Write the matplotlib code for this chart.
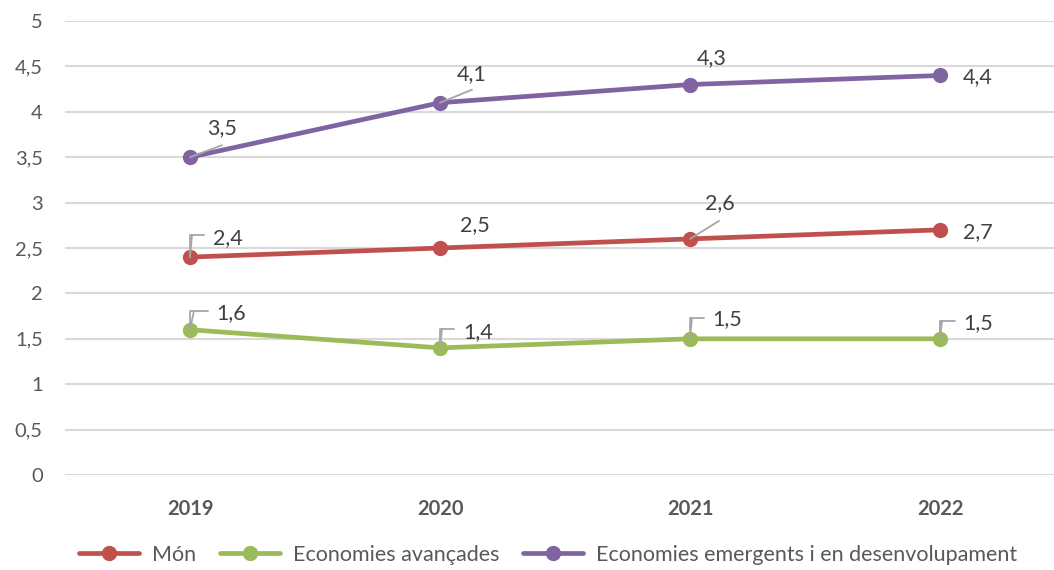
import numpy as np
import matplotlib
matplotlib.use("Agg")
import matplotlib.pyplot as plt

plt.rcParams['font.family'] = ['Lato', 'DejaVu Sans']

years = ["2019", "2020", "2021", "2022"]
mon = [2.4, 2.5, 2.6, 2.7]
avancades = [1.6, 1.4, 1.5, 1.5]
emergents = [3.5, 4.1, 4.3, 4.4]
series_names = ["Món", "Economies avançades", "Economies emergents i en desenvolupament"]
yticks = np.arange(0, 5.01, 0.5)

colors = ["#C0504D", "#9BBB59", "#8064A2"]
# label placement: (text offset, leader kind, leader points) in pixels
label_pos = [
    [((38, 19), "bracket", (2, 22, 14)), ((35, 23), None, None),
     ((30, 36), "diag", (29, 18)), ((38, -2), None, None)],
    [((41, 17), "bracket", (4, 19, 18)), ((38, 16), "bracket", (2, 19, 14)),
     ((37, 20), "bracket", (2, 21, 14)), ((38, 16), "bracket", (2, 18, 15))],
    [((32, 29), "diag", (32, 12)), ((32, 29), "diag", (32, 13)),
     ((22, 26), None, None), ((38, -2), None, None)],
]

fig = plt.figure(figsize=(10.54, 5.70), dpi=100)
ax = fig.add_axes([65 / 1054, 95 / 570, 1000 / 1054, 454 / 570])

x = np.arange(len(years))
data = [mon, avancades, emergents]
for s, vals in enumerate(data):
    ax.plot(x, vals, color=colors[s], lw=3.4, marker='o', ms=10,
            label=series_names[s], solid_capstyle='round', zorder=3)
    for i, v in enumerate(vals):
        (tx, ty), kind, lp = label_pos[s][i]
        ax.annotate(f"{v:.1f}".replace('.', ','), (i, v), xytext=(tx, ty),
                    textcoords='offset pixels', ha='center', va='center',
                    fontsize=15.5, color='#404040', zorder=4)
        if kind == "diag":
            ax.annotate('', (i, v), xytext=lp, textcoords='offset pixels',
                        arrowprops=dict(arrowstyle='-', color='#A6A6A6', lw=1.3,
                                        shrinkA=0, shrinkB=0), zorder=4)
        elif kind == "bracket":
            cx, cy, ex = lp
            ax.annotate('', (i, v), xytext=(cx, cy), textcoords='offset pixels',
                        arrowprops=dict(arrowstyle='-', color='#A6A6A6', lw=1.3,
                                        shrinkA=0, shrinkB=0), zorder=4)
            ax.annotate('', (i, v), xytext=(ex, cy), textcoords='offset pixels',
                        arrowprops=dict(arrowstyle='-', color='#A6A6A6', lw=1.3,
                                        shrinkA=0, shrinkB=0,
                                        connectionstyle='angle,angleA=180,angleB=90,rad=0'),
                        zorder=4)

ax.set_xlim(-0.5, 3.5)
ax.set_ylim(0, 5)
ax.set_yticks(yticks)
ax.set_yticklabels([f"{t:g}".replace('.', ',') for t in yticks])
ax.set_xticks(x)
ax.set_xticklabels(years, fontweight='bold')
ax.tick_params(axis='y', length=0, pad=16, labelsize=14.5, labelcolor='#595959')
ax.tick_params(axis='x', length=0, pad=17, labelsize=14.5, labelcolor='#595959')
ax.grid(axis='y', color='#D9D9D9', lw=1.5)
ax.set_axisbelow(True)
for sp in ax.spines.values():
    sp.set_visible(False)

fig.legend(loc='center', bbox_to_anchor=(548 / 1054, 15 / 570), ncol=3, frameon=False,
           fontsize=15.5, labelcolor='#595959', handlelength=2.8, columnspacing=1.1,
           handletextpad=0.6)

fig.savefig("out.png", dpi=100)
